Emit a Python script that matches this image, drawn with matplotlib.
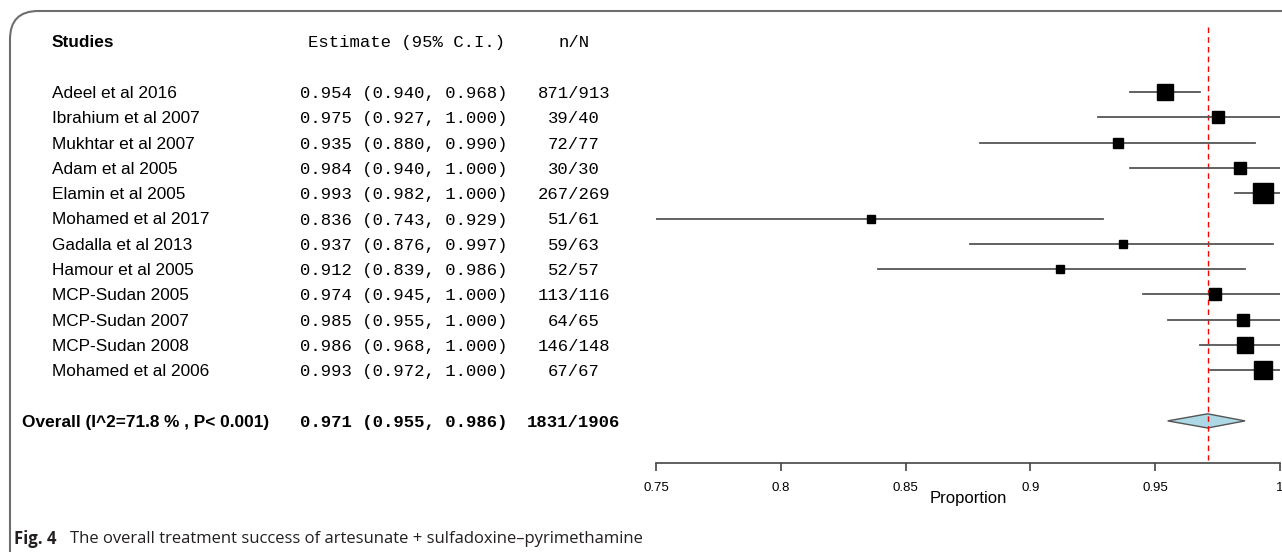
#Forest plot of treatment success proportions.

import numpy as np
import matplotlib
import matplotlib.pyplot as plt
from matplotlib.patches import FancyBboxPatch, Polygon
from matplotlib.transforms import blended_transform_factory

#Study data.
studies = ["Adeel et al 2016", "Ibrahium et al 2007", "Mukhtar et al 2007",
           "Adam et al 2005", "Elamin et al 2005", "Mohamed et al 2017",
           "Gadalla et al 2013", "Hamour et al 2005", "MCP-Sudan 2005",
           "MCP-Sudan 2007", "MCP-Sudan 2008", "Mohamed et al 2006"]
estimate = [0.954, 0.975, 0.935, 0.984, 0.993, 0.836, 0.937, 0.912, 0.974, 0.985, 0.986, 0.993]
lower = [0.940, 0.927, 0.880, 0.940, 0.982, 0.743, 0.876, 0.839, 0.945, 0.955, 0.968, 0.972]
upper = [0.968, 1.000, 0.990, 1.000, 1.000, 0.929, 0.997, 0.986, 1.000, 1.000, 1.000, 1.000]
events = [871, 39, 72, 30, 267, 51, 59, 52, 113, 64, 146, 67]
totals = [913, 40, 77, 30, 269, 61, 63, 57, 116, 65, 148, 67]
#Relative study weights (%), estimated from the square sizes.
weights = [13.1, 6.0, 4.4, 6.5, 20.0, 2.4, 2.9, 2.9, 7.1, 7.3, 12.1, 15.3]

#Pooled result.
overall_est, overall_lo, overall_hi = 0.971, 0.955, 0.986
overall_n, overall_N = 1831, 1906
i2, p_text = 71.8, "P< 0.001"

xticks = [0.75, 0.8, 0.85, 0.9, 0.95, 1.0]
xticklabels = ["0.75", "0.8", "0.85", "0.9", "0.95", "1"]

W, H = 1282, 552
fig = plt.figure(figsize=(W/100, H/100), dpi=100)

#Frame round the whole figure (cut off on the right and bottom).
frame = FancyBboxPatch((10/W, -0.2), 1.2, 0.2 + (H-11)/H, boxstyle="round,pad=0,rounding_size=0.022",
                       transform=fig.transFigure, facecolor="none", edgecolor="#6e6e6e",
                       linewidth=1.5, mutation_aspect=W/H)
fig.patches.append(frame)

#Plot area: proportion on x, row number on y (row 0 = first study).
row_top, row_step = 92, 25.3
ax = fig.add_axes([656/W, 1 - 463/H, (1280-656)/W, (463-20)/H])
ax.set_xlim(0.75, 1.0)
ax.set_ylim((463-row_top)/row_step, (20-row_top)/row_step)
ax.patch.set_alpha(0)
for s in ["top", "right", "left"]:
    ax.spines[s].set_visible(False)
ax.spines["bottom"].set_color("#444444")
ax.spines["bottom"].set_linewidth(1.2)
ax.set_yticks([])
ax.set_xticks(xticks)
ax.set_xticklabels(xticklabels, fontsize=9.5, family="Liberation Sans")
ax.tick_params(axis="x", length=5.5, width=1.2, color="#444444", pad=8)
fig.text(968/W, 1 - 499/H, "Proportion", fontsize=12, family="Liberation Sans",
         va="center", ha="center")

rows = np.arange(len(studies))
overall_row = len(studies) + 1
header_row = -2

#Red dashed line at the pooled estimate.
ax.plot([overall_est, overall_est], [(27-row_top)/row_step, (460-row_top)/row_step], color="red",
        linestyle=(0, (4, 3)), linewidth=1)

#Confidence intervals and weighted squares.
wmax = max(weights)
for i in rows:
    ax.plot([lower[i], upper[i]], [i, i], color="#555555", linewidth=1.3)
    side = 20.6 * np.sqrt(weights[i]/wmax) * 0.72
    ax.plot(estimate[i], i, marker="s", markersize=side, color="black", clip_on=False)

#Diamond for the pooled estimate.
dh = 0.28
diamond = Polygon([[overall_lo, overall_row], [overall_est, overall_row - dh],
                   [overall_hi, overall_row], [overall_est, overall_row + dh]],
                  closed=True, facecolor="#add8e6", edgecolor="#555555", linewidth=1)
ax.add_patch(diamond)

#Text columns: x in figure pixels, y in rows.
tr = blended_transform_factory(fig.transFigure, ax.transData)
sans = "Liberation Sans"
mono = "Liberation Mono"
fs = 12.4
va = "center_baseline"

ax.text(52/W, header_row, "Studies", transform=tr, fontsize=fs, family=sans,
        fontweight="bold", va=va, ha="left")
ax.text(308/W, header_row, "Estimate (95% C.I.)", transform=tr, fontsize=fs, family=mono,
        va=va, ha="left")
ax.text(574/W, header_row, "n/N", transform=tr, fontsize=fs, family=mono, va=va, ha="center")

for i in rows:
    ax.text(52/W, i, studies[i], transform=tr, fontsize=fs, family=sans, va=va, ha="left")
    est_txt = "%.3f (%.3f, %.3f)" % (estimate[i], lower[i], upper[i])
    ax.text(300/W, i, est_txt, transform=tr, fontsize=fs, family=mono, va=va, ha="left")
    ax.text(574/W, i, "%d/%d" % (events[i], totals[i]), transform=tr, fontsize=fs,
            family=mono, va=va, ha="center")

ax.text(22/W, overall_row, "Overall (I^2=%.1f %% , %s)" % (i2, p_text), transform=tr,
        fontsize=fs, family=sans, fontweight="bold", va=va, ha="left")
ax.text(300/W, overall_row, "%.3f (%.3f, %.3f)" % (overall_est, overall_lo, overall_hi),
        transform=tr, fontsize=fs, family=mono, fontweight="bold", va=va, ha="left")
ax.text(574/W, overall_row, "%d/%d" % (overall_n, overall_N), transform=tr, fontsize=fs,
        family=mono, fontweight="bold", va=va, ha="center")

#Caption.
fig.text(14/W, 1 - 537/H, "Fig. 4", fontsize=12, family="Open Sans", fontweight="bold",
         color="#231f20", va=va, ha="left")
fig.text(70/W, 1 - 537/H, "The overall treatment success of artesunate + sulfadoxine\u2013pyrimethamine",
         fontsize=12, family="Open Sans", color="#231f20", va=va, ha="left")

fig.savefig("out.png", dpi=100)
